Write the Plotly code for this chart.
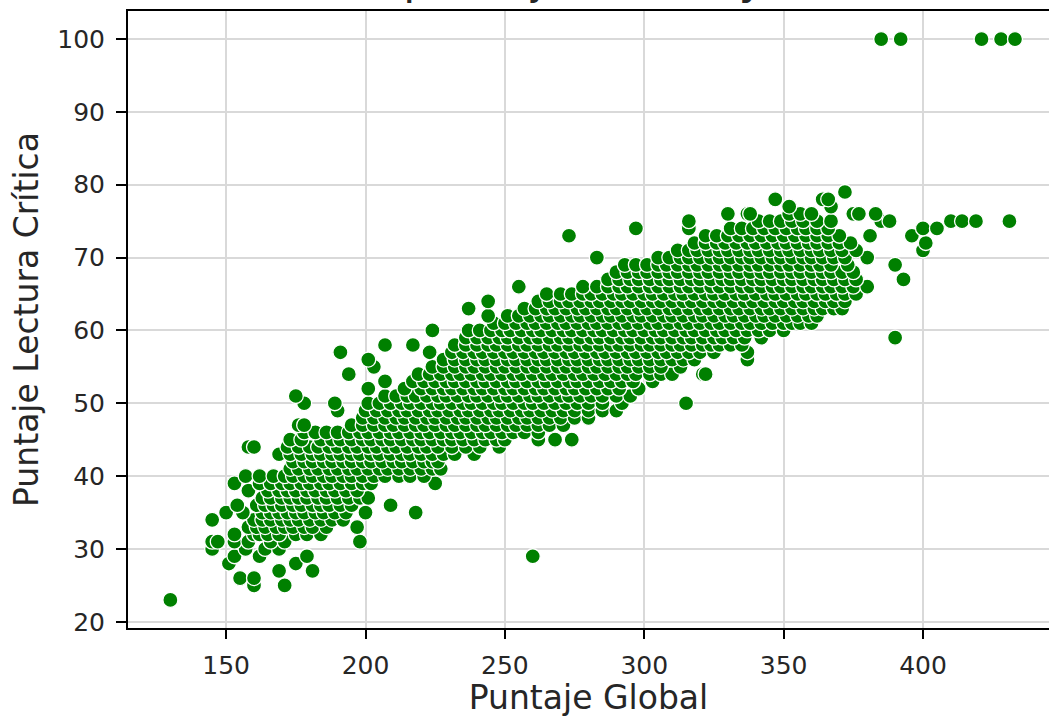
import plotly.graph_objects as go

# ---- data: rows of equal "Puntaje Lectura Crítica", with the "Puntaje Global" values read on each row ----
lectura_filas = [23, 25, 26, 27, 28, 29, 30, 31, 32, 33, 34, 35, 36, 37, 38, 39, 40, 41, 42, 43,
                 44, 45, 46, 47, 48, 49, 50, 51, 52, 53, 54, 55, 56, 57, 58, 59, 60, 61, 62, 63,
                 64, 65, 66, 67, 68, 69, 70, 71, 72, 73, 74, 75, 76, 77, 78, 79, 100]

global_filas = [
    [130],
    [160, 171],
    [155, 160],
    [169, 181],
    [151, 175],
    [153, 162, 179, 260],
    [145, 157, 164, 169],
    [145, 147, 153, 158, 166, 171, 198],
    [153, 160, 162, 165, 169, 175, 179, 184],
    [158, 161, 164, 168, 171, 174, 178, 181, 186, 197],
    [145, 160, 163, 166, 170, 173, 176, 180, 184, 188, 192],
    [150, 156, 163, 166, 169, 172, 175, 178, 182, 185, 189, 193, 200, 218],
    [154, 161, 164, 167, 170, 174, 177, 181, 184, 187, 191, 195, 209],
    [163, 166, 170, 173, 176, 179, 183, 186, 190, 194, 198, 201],
    [158, 165, 169, 172, 175, 179, 182, 186, 189, 193, 197],
    [153, 162, 166, 170, 173, 177, 180, 184, 187, 191, 195, 199, 202, 225],
    [157, 162, 167, 171, 174, 178, 181, 185, 188, 192, 195, 199, 203, 207, 212, 216, 221],
    [173, 176, 180, 183, 187, 190, 194, 197, 201, 205, 208, 212, 216, 220, 224, 227],
    [174, 178, 181, 185, 188, 192, 195, 199, 202, 206, 210, 213, 217, 221, 224, 226],
    [169, 173, 177, 181, 184, 188, 191, 195, 198, 202, 205, 209, 213, 216, 220, 224, 228, 232, 239],
    [158, 160, 172, 176, 180, 183, 187, 190, 194, 197, 201, 204, 208, 211, 215, 219, 222, 226, 231,
     236, 241, 248],
    [173, 177, 184, 188, 191, 195, 199, 202, 206, 209, 213, 217, 220, 224, 228, 231, 235, 239, 243,
     247, 250, 262, 268, 274],
    [178, 182, 186, 190, 194, 198, 201, 205, 209, 212, 216, 220, 223, 227, 231, 234, 238, 242, 245,
     249, 253, 257, 262],
    [176, 178, 195, 199, 203, 207, 210, 214, 218, 221, 225, 229, 232, 236, 240, 243, 247, 251, 254,
     258, 262, 266, 271],
    [199, 203, 207, 211, 214, 218, 222, 225, 229, 233, 236, 240, 244, 247, 251, 255, 258, 262, 266,
     270, 275, 280],
    [190, 200, 204, 208, 212, 215, 219, 223, 226, 230, 234, 237, 241, 245, 248, 252, 256, 259, 263,
     267, 271, 275, 280, 285, 290],
    [178, 189, 201, 205, 209, 213, 216, 220, 224, 227, 231, 235, 238, 242, 246, 249, 253, 257, 260,
     264, 268, 272, 276, 280, 285, 292, 315],
    [175, 207, 211, 215, 218, 222, 226, 229, 233, 237, 240, 244, 248, 251, 255, 259, 262, 266, 270,
     273, 277, 281, 285, 290, 295],
    [201, 214, 220, 224, 228, 231, 235, 239, 242, 246, 250, 253, 257, 261, 264, 268, 272, 275, 279,
     283, 287, 291, 298],
    [207, 217, 221, 225, 229, 232, 236, 240, 243, 247, 251, 254, 258, 262, 265, 269, 273, 276, 280,
     284, 288, 292, 296, 303],
    [194, 219, 223, 227, 231, 234, 238, 242, 245, 249, 253, 256, 260, 264, 267, 271, 275, 278, 282,
     286, 290, 294, 297, 302, 306, 310, 321, 322],
    [203, 224, 228, 232, 236, 239, 243, 247, 250, 254, 258, 261, 265, 269, 272, 276, 280, 283, 287,
     291, 294, 298, 302, 306, 313],
    [201, 228, 232, 236, 240, 243, 247, 251, 254, 258, 262, 265, 269, 273, 276, 280, 284, 287, 291,
     295, 298, 302, 306, 310, 314, 318, 337],
    [191, 223, 231, 235, 239, 242, 246, 250, 253, 257, 261, 264, 268, 272, 275, 279, 283, 286, 290,
     294, 297, 301, 305, 308, 312, 316, 320, 325, 337],
    [207, 217, 232, 236, 240, 244, 247, 251, 255, 258, 262, 266, 269, 273, 277, 280, 284, 288, 291,
     295, 299, 302, 306, 310, 313, 317, 321, 324, 327, 331, 335],
    [236, 240, 244, 248, 251, 255, 259, 262, 266, 270, 273, 277, 281, 284, 288, 292, 295, 299, 303,
     306, 310, 314, 317, 321, 325, 328, 332, 336, 342, 390],
    [224, 237, 241, 245, 249, 252, 256, 260, 263, 267, 271, 274, 278, 282, 285, 289, 293, 296, 300,
     304, 307, 311, 315, 318, 322, 326, 329, 333, 337, 341, 345, 350],
    [246, 250, 254, 258, 261, 265, 269, 272, 276, 280, 283, 287, 291, 294, 298, 302, 305, 309, 313,
     316, 320, 324, 327, 331, 335, 338, 342, 346, 350, 353, 356, 360],
    [244, 251, 255, 259, 263, 266, 270, 274, 277, 281, 285, 288, 292, 296, 299, 303, 307, 310, 314,
     318, 321, 325, 329, 332, 336, 340, 343, 347, 351, 355, 359, 362],
    [237, 257, 261, 265, 268, 272, 276, 279, 283, 287, 290, 294, 298, 301, 305, 309, 312, 316, 320,
     323, 327, 331, 334, 338, 342, 345, 349, 353, 357, 361, 364, 368, 371],
    [244, 262, 266, 270, 273, 277, 281, 284, 288, 292, 295, 299, 303, 306, 310, 314, 317, 321, 325,
     328, 332, 336, 339, 343, 347, 350, 354, 357, 361, 365, 368, 372],
    [265, 270, 274, 278, 281, 285, 289, 292, 296, 300, 303, 307, 311, 314, 318, 322, 325, 329, 333,
     336, 340, 344, 347, 351, 355, 358, 362, 365, 369, 372, 376],
    [255, 278, 283, 287, 291, 294, 298, 302, 305, 309, 313, 316, 320, 324, 327, 331, 335, 338, 342,
     346, 349, 353, 357, 360, 364, 367, 371, 375, 380],
    [287, 291, 295, 298, 302, 306, 309, 313, 317, 320, 324, 328, 331, 335, 339, 342, 346, 350, 353,
     357, 361, 364, 368, 372, 376, 393],
    [290, 294, 298, 301, 305, 309, 312, 316, 320, 323, 327, 331, 334, 338, 342, 345, 349, 353, 356,
     360, 364, 367, 371, 375],
    [293, 297, 301, 305, 308, 312, 316, 319, 323, 327, 330, 334, 338, 341, 345, 349, 352, 356, 360,
     363, 367, 373, 390],
    [283, 305, 309, 313, 316, 320, 324, 327, 331, 335, 338, 342, 346, 349, 353, 357, 360, 364, 368,
     372, 380],
    [312, 316, 319, 323, 327, 330, 334, 338, 341, 345, 349, 352, 356, 360, 363, 367, 371, 376, 400],
    [318, 322, 326, 329, 333, 337, 340, 344, 348, 351, 355, 359, 362, 366, 370, 374, 401],
    [273, 322, 326, 330, 334, 338, 342, 346, 350, 354, 358, 362, 366, 370, 381, 396],
    [297, 316, 331, 335, 339, 343, 347, 351, 355, 358, 362, 366, 400, 405],
    [316, 341, 345, 349, 353, 357, 362, 367, 385, 388, 410, 414, 419, 431],
    [330, 337, 338, 352, 356, 360, 375, 377, 383],
    [352, 367],
    [347, 364, 366],
    [372],
    [385, 392, 421, 428, 433],
]

x_ticks = [150, 200, 250, 300, 350, 400]
y_ticks = [20, 30, 40, 50, 60, 70, 80, 90, 100]
x_range = [114.8, 445.2]
y_range = [19.15, 103.85]

titulo = "Relación del puntaje Global y Lectura Crítica"
eje_x = "Puntaje Global"
eje_y = "Puntaje Lectura Crítica"

# flatten rows into the two series
puntaje_global = []
lectura_critica = []
for lc, fila in zip(lectura_filas, global_filas):
    for g in fila:
        puntaje_global.append(g)
        lectura_critica.append(lc)

FONT = "DejaVu Sans"
TXT = "#262626"

fig = go.Figure(
    go.Scatter(
        x=puntaje_global,
        y=lectura_critica,
        mode="markers",
        marker=dict(color="#008000", size=15, line=dict(color="white", width=1.3)),
        hoverinfo="x+y",
    )
)

fig.update_layout(
    width=1049,
    height=717,
    autosize=False,
    margin=dict(l=128, r=0, t=11, b=89, pad=0),
    paper_bgcolor="white",
    plot_bgcolor="white",
    showlegend=False,
    font=dict(family=FONT, color=TXT, size=25),
)

fig.update_xaxes(
    range=x_range,
    tickvals=x_ticks,
    showgrid=True, gridcolor="#d9d9d9", gridwidth=1.6,
    zeroline=False,
    showline=True, linecolor="black", linewidth=2, mirror=True,
    ticks="outside", ticklen=9, tickwidth=2, tickcolor="black",
    tickfont=dict(family=FONT, size=25, color=TXT),
    ticklabelstandoff=5,
    title=dict(text=eje_x, font=dict(family=FONT, size=33, color=TXT), standoff=12),
    automargin=False,
)
fig.update_yaxes(
    range=y_range,
    tickvals=y_ticks,
    showgrid=True, gridcolor="#d9d9d9", gridwidth=1.6,
    zeroline=False,
    showline=True, linecolor="black", linewidth=2, mirror=False,
    ticks="outside", ticklen=10, tickwidth=2, tickcolor="black",
    tickfont=dict(family=FONT, size=25, color=TXT),
    ticklabelstandoff=6,
    title=dict(text=eje_y, font=dict(family=FONT, size=33, color=TXT), standoff=9),
    automargin=False,
)

# title mostly cut off by the top edge, only descenders visible (as in the reference)
fig.add_annotation(
    text=titulo,
    xref="x", yref="paper",
    x=(x_range[0] + 449.2) / 2, y=1,
    xanchor="center", yanchor="bottom",
    xshift=17, yshift=5,
    showarrow=False,
    font=dict(family=FONT, size=44, color=TXT),
)

fig.write_html(
    "out.html",
    config={"displayModeBar": False},
    post_script="document.body.style.margin='0';document.body.style.overflow='hidden';",
)
